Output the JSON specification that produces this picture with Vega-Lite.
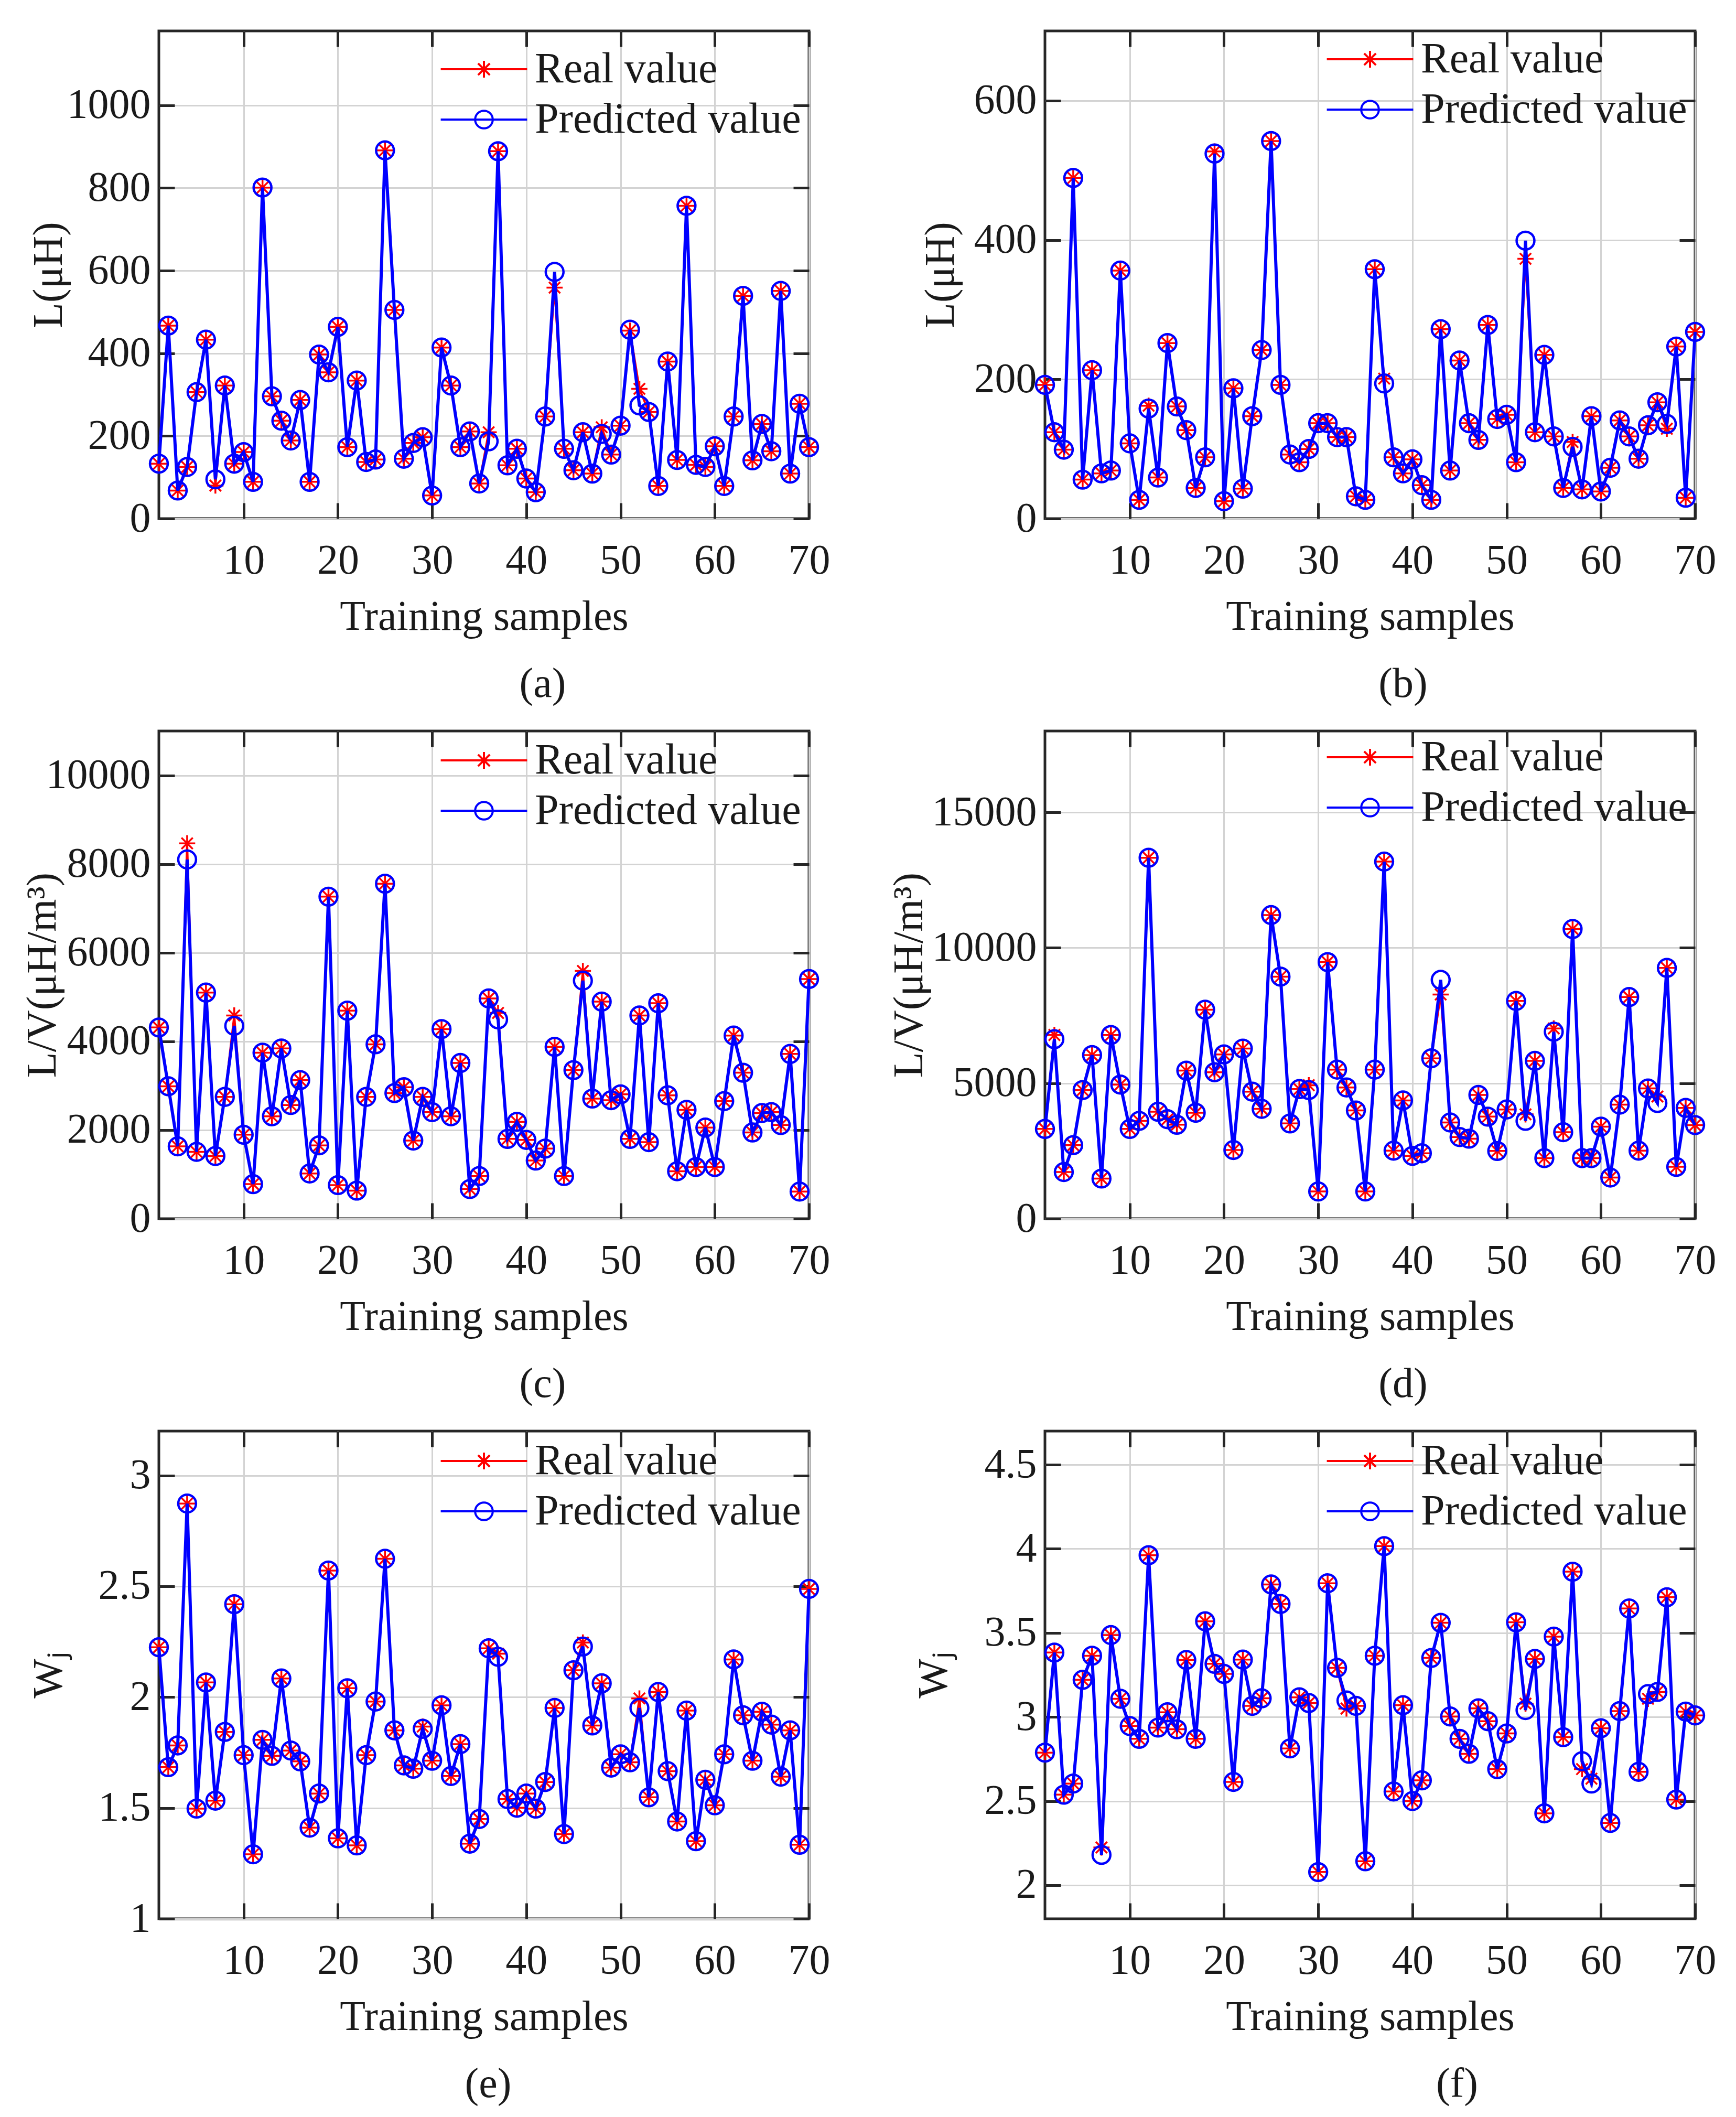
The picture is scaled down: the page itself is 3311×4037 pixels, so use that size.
{
"$schema":"https://vega.github.io/schema/vega-lite/v6.json",
"background":"white",
"padding":{"left":38,"top":54,"right":0,"bottom":0},
"autosize":{"type":"pad"},
"bounds":"flush",
"columns":2,
"spacing":{"row":405,"column":450},
"resolve":{"scale":{"color":"independent","shape":"independent"},"legend":{"color":"independent","shape":"independent"}},
"datasets":{
"a":[{"i":1,"Real value":133,"Predicted value":133},{"i":2,"Real value":467,"Predicted value":467},{"i":3,"Real value":68,"Predicted value":68},{"i":4,"Real value":125,"Predicted value":125},{"i":5,"Real value":306,"Predicted value":306},{"i":6,"Real value":433,"Predicted value":433},{"i":7,"Real value":80,"Predicted value":95},{"i":8,"Real value":322,"Predicted value":322},{"i":9,"Real value":133,"Predicted value":133},{"i":10,"Real value":161,"Predicted value":161},{"i":11,"Real value":89,"Predicted value":89},{"i":12,"Real value":801,"Predicted value":801},{"i":13,"Real value":296,"Predicted value":296},{"i":14,"Real value":237,"Predicted value":237},{"i":15,"Real value":189,"Predicted value":189},{"i":16,"Real value":287,"Predicted value":287},{"i":17,"Real value":89,"Predicted value":89},{"i":18,"Real value":397,"Predicted value":397},{"i":19,"Real value":354,"Predicted value":354},{"i":20,"Real value":464,"Predicted value":464},{"i":21,"Real value":173,"Predicted value":173},{"i":22,"Real value":334,"Predicted value":334},{"i":23,"Real value":137,"Predicted value":137},{"i":24,"Real value":143,"Predicted value":143},{"i":25,"Real value":891,"Predicted value":891},{"i":26,"Real value":505,"Predicted value":505},{"i":27,"Real value":145,"Predicted value":145},{"i":28,"Real value":183,"Predicted value":183},{"i":29,"Real value":197,"Predicted value":197},{"i":30,"Real value":56,"Predicted value":56},{"i":31,"Real value":414,"Predicted value":414},{"i":32,"Real value":322,"Predicted value":322},{"i":33,"Real value":173,"Predicted value":173},{"i":34,"Real value":211,"Predicted value":211},{"i":35,"Real value":85,"Predicted value":85},{"i":36,"Real value":209,"Predicted value":187},{"i":37,"Real value":889,"Predicted value":889},{"i":38,"Real value":129,"Predicted value":129},{"i":39,"Real value":169,"Predicted value":169},{"i":40,"Real value":97,"Predicted value":97},{"i":41,"Real value":64,"Predicted value":64},{"i":42,"Real value":247,"Predicted value":247},{"i":43,"Real value":559,"Predicted value":597},{"i":44,"Real value":169,"Predicted value":169},{"i":45,"Real value":117,"Predicted value":117},{"i":46,"Real value":209,"Predicted value":209},{"i":47,"Real value":109,"Predicted value":109},{"i":48,"Real value":221,"Predicted value":205},{"i":49,"Real value":155,"Predicted value":155},{"i":50,"Real value":225,"Predicted value":225},{"i":51,"Real value":455,"Predicted value":457},{"i":52,"Real value":314,"Predicted value":274},{"i":53,"Real value":258,"Predicted value":258},{"i":54,"Real value":79,"Predicted value":79},{"i":55,"Real value":380,"Predicted value":380},{"i":56,"Real value":142,"Predicted value":142},{"i":57,"Real value":757,"Predicted value":757},{"i":58,"Real value":130,"Predicted value":130},{"i":59,"Real value":125,"Predicted value":125},{"i":60,"Real value":175,"Predicted value":175},{"i":61,"Real value":79,"Predicted value":79},{"i":62,"Real value":247,"Predicted value":247},{"i":63,"Real value":539,"Predicted value":539},{"i":64,"Real value":141,"Predicted value":141},{"i":65,"Real value":229,"Predicted value":229},{"i":66,"Real value":163,"Predicted value":163},{"i":67,"Real value":551,"Predicted value":551},{"i":68,"Real value":109,"Predicted value":109},{"i":69,"Real value":278,"Predicted value":278},{"i":70,"Real value":173,"Predicted value":173}],
"b":[{"i":1,"Real value":192,"Predicted value":192},{"i":2,"Real value":124,"Predicted value":124},{"i":3,"Real value":99,"Predicted value":99},{"i":4,"Real value":489,"Predicted value":489},{"i":5,"Real value":56,"Predicted value":56},{"i":6,"Real value":213,"Predicted value":213},{"i":7,"Real value":65,"Predicted value":65},{"i":8,"Real value":69,"Predicted value":69},{"i":9,"Real value":356,"Predicted value":356},{"i":10,"Real value":108,"Predicted value":108},{"i":11,"Real value":27,"Predicted value":27},{"i":12,"Real value":162,"Predicted value":158},{"i":13,"Real value":59,"Predicted value":59},{"i":14,"Real value":252,"Predicted value":252},{"i":15,"Real value":161,"Predicted value":161},{"i":16,"Real value":127,"Predicted value":127},{"i":17,"Real value":44,"Predicted value":44},{"i":18,"Real value":88,"Predicted value":88},{"i":19,"Real value":527,"Predicted value":524},{"i":20,"Real value":25,"Predicted value":25},{"i":21,"Real value":187,"Predicted value":187},{"i":22,"Real value":43,"Predicted value":43},{"i":23,"Real value":147,"Predicted value":147},{"i":24,"Real value":242,"Predicted value":242},{"i":25,"Real value":542,"Predicted value":542},{"i":26,"Real value":192,"Predicted value":192},{"i":27,"Real value":92,"Predicted value":92},{"i":28,"Real value":81,"Predicted value":81},{"i":29,"Real value":100,"Predicted value":100},{"i":30,"Real value":137,"Predicted value":137},{"i":31,"Real value":137,"Predicted value":137},{"i":32,"Real value":117,"Predicted value":117},{"i":33,"Real value":117,"Predicted value":117},{"i":34,"Real value":32,"Predicted value":32},{"i":35,"Real value":27,"Predicted value":27},{"i":36,"Real value":358,"Predicted value":358},{"i":37,"Real value":201,"Predicted value":194},{"i":38,"Real value":88,"Predicted value":88},{"i":39,"Real value":65,"Predicted value":65},{"i":40,"Real value":85,"Predicted value":85},{"i":41,"Real value":48,"Predicted value":48},{"i":42,"Real value":27,"Predicted value":27},{"i":43,"Real value":272,"Predicted value":272},{"i":44,"Real value":69,"Predicted value":69},{"i":45,"Real value":227,"Predicted value":227},{"i":46,"Real value":137,"Predicted value":137},{"i":47,"Real value":113,"Predicted value":113},{"i":48,"Real value":278,"Predicted value":278},{"i":49,"Real value":143,"Predicted value":143},{"i":50,"Real value":149,"Predicted value":149},{"i":51,"Real value":81,"Predicted value":81},{"i":52,"Real value":373,"Predicted value":399},{"i":53,"Real value":124,"Predicted value":124},{"i":54,"Real value":235,"Predicted value":235},{"i":55,"Real value":118,"Predicted value":118},{"i":56,"Real value":44,"Predicted value":44},{"i":57,"Real value":110,"Predicted value":103},{"i":58,"Real value":42,"Predicted value":42},{"i":59,"Real value":147,"Predicted value":147},{"i":60,"Real value":39,"Predicted value":39},{"i":61,"Real value":73,"Predicted value":73},{"i":62,"Real value":141,"Predicted value":141},{"i":63,"Real value":118,"Predicted value":118},{"i":64,"Real value":86,"Predicted value":86},{"i":65,"Real value":134,"Predicted value":134},{"i":66,"Real value":167,"Predicted value":167},{"i":67,"Real value":129,"Predicted value":136},{"i":68,"Real value":247,"Predicted value":247},{"i":69,"Real value":30,"Predicted value":30},{"i":70,"Real value":268,"Predicted value":268}],
"c":[{"i":1,"Real value":4313,"Predicted value":4313},{"i":2,"Real value":2987,"Predicted value":2987},{"i":3,"Real value":1632,"Predicted value":1632},{"i":4,"Real value":8466,"Predicted value":8102},{"i":5,"Real value":1508,"Predicted value":1508},{"i":6,"Real value":5100,"Predicted value":5100},{"i":7,"Real value":1413,"Predicted value":1413},{"i":8,"Real value":2747,"Predicted value":2747},{"i":9,"Real value":4583,"Predicted value":4350},{"i":10,"Real value":1894,"Predicted value":1894},{"i":11,"Real value":780,"Predicted value":780},{"i":12,"Real value":3745,"Predicted value":3745},{"i":13,"Real value":2310,"Predicted value":2310},{"i":14,"Real value":3840,"Predicted value":3840},{"i":15,"Real value":2565,"Predicted value":2565},{"i":16,"Real value":3126,"Predicted value":3126},{"i":17,"Real value":1020,"Predicted value":1020},{"i":18,"Real value":1654,"Predicted value":1654},{"i":19,"Real value":7264,"Predicted value":7264},{"i":20,"Real value":758,"Predicted value":758},{"i":21,"Real value":4692,"Predicted value":4692},{"i":22,"Real value":634,"Predicted value":634},{"i":23,"Real value":2747,"Predicted value":2747},{"i":24,"Real value":3934,"Predicted value":3934},{"i":25,"Real value":7556,"Predicted value":7556},{"i":26,"Real value":2834,"Predicted value":2834},{"i":27,"Real value":2965,"Predicted value":2965},{"i":28,"Real value":1763,"Predicted value":1763},{"i":29,"Real value":2747,"Predicted value":2747},{"i":30,"Real value":2404,"Predicted value":2404},{"i":31,"Real value":4277,"Predicted value":4277},{"i":32,"Real value":2310,"Predicted value":2310},{"i":33,"Real value":3512,"Predicted value":3512},{"i":34,"Real value":670,"Predicted value":670},{"i":35,"Real value":962,"Predicted value":962},{"i":36,"Real value":4969,"Predicted value":4969},{"i":37,"Real value":4641,"Predicted value":4495},{"i":38,"Real value":1800,"Predicted value":1800},{"i":39,"Real value":2186,"Predicted value":2186},{"i":40,"Real value":1778,"Predicted value":1778},{"i":41,"Real value":1312,"Predicted value":1312},{"i":42,"Real value":1581,"Predicted value":1581},{"i":43,"Real value":3876,"Predicted value":3876},{"i":44,"Real value":962,"Predicted value":962},{"i":45,"Real value":3352,"Predicted value":3352},{"i":46,"Real value":5588,"Predicted value":5370},{"i":47,"Real value":2710,"Predicted value":2710},{"i":48,"Real value":4896,"Predicted value":4896},{"i":49,"Real value":2674,"Predicted value":2674},{"i":50,"Real value":2805,"Predicted value":2805},{"i":51,"Real value":1800,"Predicted value":1800},{"i":52,"Real value":4583,"Predicted value":4583},{"i":53,"Real value":1727,"Predicted value":1727},{"i":54,"Real value":4860,"Predicted value":4860},{"i":55,"Real value":2783,"Predicted value":2783},{"i":56,"Real value":1071,"Predicted value":1071},{"i":57,"Real value":2455,"Predicted value":2455},{"i":58,"Real value":1166,"Predicted value":1166},{"i":59,"Real value":2055,"Predicted value":2055},{"i":60,"Real value":1166,"Predicted value":1166},{"i":61,"Real value":2652,"Predicted value":2652},{"i":62,"Real value":4131,"Predicted value":4131},{"i":63,"Real value":3293,"Predicted value":3293},{"i":64,"Real value":1945,"Predicted value":1945},{"i":65,"Real value":2383,"Predicted value":2383},{"i":66,"Real value":2404,"Predicted value":2404},{"i":67,"Real value":2113,"Predicted value":2113},{"i":68,"Real value":3716,"Predicted value":3716},{"i":69,"Real value":612,"Predicted value":612},{"i":70,"Real value":5406,"Predicted value":5406}],
"d":[{"i":1,"Real value":3313,"Predicted value":3313},{"i":2,"Real value":6781,"Predicted value":6626},{"i":3,"Real value":1722,"Predicted value":1722},{"i":4,"Real value":2715,"Predicted value":2715},{"i":5,"Real value":4748,"Predicted value":4748},{"i":6,"Real value":6040,"Predicted value":6040},{"i":7,"Real value":1483,"Predicted value":1483},{"i":8,"Real value":6781,"Predicted value":6781},{"i":9,"Real value":4951,"Predicted value":4951},{"i":10,"Real value":3313,"Predicted value":3313},{"i":11,"Real value":3612,"Predicted value":3612},{"i":12,"Real value":13323,"Predicted value":13323},{"i":13,"Real value":3947,"Predicted value":3947},{"i":14,"Real value":3672,"Predicted value":3672},{"i":15,"Real value":3468,"Predicted value":3468},{"i":16,"Real value":5466,"Predicted value":5466},{"i":17,"Real value":3911,"Predicted value":3911},{"i":18,"Real value":7714,"Predicted value":7714},{"i":19,"Real value":5406,"Predicted value":5406},{"i":20,"Real value":6064,"Predicted value":6064},{"i":21,"Real value":2536,"Predicted value":2536},{"i":22,"Real value":6279,"Predicted value":6279},{"i":23,"Real value":4688,"Predicted value":4688},{"i":24,"Real value":4054,"Predicted value":4054},{"i":25,"Real value":11207,"Predicted value":11207},{"i":26,"Real value":8934,"Predicted value":8934},{"i":27,"Real value":3516,"Predicted value":3516},{"i":28,"Real value":4784,"Predicted value":4784},{"i":29,"Real value":4928,"Predicted value":4748},{"i":30,"Real value":1005,"Predicted value":1005},{"i":31,"Real value":9472,"Predicted value":9472},{"i":32,"Real value":5502,"Predicted value":5502},{"i":33,"Real value":4844,"Predicted value":4844},{"i":34,"Real value":3995,"Predicted value":3995},{"i":35,"Real value":1005,"Predicted value":1005},{"i":36,"Real value":5502,"Predicted value":5502},{"i":37,"Real value":13180,"Predicted value":13180},{"i":38,"Real value":2512,"Predicted value":2512},{"i":39,"Real value":4365,"Predicted value":4365},{"i":40,"Real value":2320,"Predicted value":2320},{"i":41,"Real value":2416,"Predicted value":2416},{"i":42,"Real value":5920,"Predicted value":5920},{"i":43,"Real value":8276,"Predicted value":8815},{"i":44,"Real value":3552,"Predicted value":3552},{"i":45,"Real value":3014,"Predicted value":3014},{"i":46,"Real value":2954,"Predicted value":2954},{"i":47,"Real value":4569,"Predicted value":4569},{"i":48,"Real value":3767,"Predicted value":3767},{"i":49,"Real value":2500,"Predicted value":2500},{"i":50,"Real value":4030,"Predicted value":4030},{"i":51,"Real value":8037,"Predicted value":8037},{"i":52,"Real value":3851,"Predicted value":3612},{"i":53,"Real value":5825,"Predicted value":5825},{"i":54,"Real value":2237,"Predicted value":2237},{"i":55,"Real value":7021,"Predicted value":6901},{"i":56,"Real value":3193,"Predicted value":3193},{"i":57,"Real value":10692,"Predicted value":10692},{"i":58,"Real value":2237,"Predicted value":2237},{"i":59,"Real value":2237,"Predicted value":2237},{"i":60,"Real value":3397,"Predicted value":3397},{"i":61,"Real value":1519,"Predicted value":1519},{"i":62,"Real value":4210,"Predicted value":4210},{"i":63,"Real value":8181,"Predicted value":8181},{"i":64,"Real value":2512,"Predicted value":2512},{"i":65,"Real value":4808,"Predicted value":4808},{"i":66,"Real value":4509,"Predicted value":4270},{"i":67,"Real value":9257,"Predicted value":9257},{"i":68,"Real value":1914,"Predicted value":1914},{"i":69,"Real value":4090,"Predicted value":4090},{"i":70,"Real value":3456,"Predicted value":3456}],
"e":[{"i":1,"Real value":2.225,"Predicted value":2.225},{"i":2,"Real value":1.684,"Predicted value":1.684},{"i":3,"Real value":1.782,"Predicted value":1.782},{"i":4,"Real value":2.873,"Predicted value":2.873},{"i":5,"Real value":1.497,"Predicted value":1.497},{"i":6,"Real value":2.066,"Predicted value":2.066},{"i":7,"Real value":1.533,"Predicted value":1.533},{"i":8,"Real value":1.843,"Predicted value":1.843},{"i":9,"Real value":2.419,"Predicted value":2.419},{"i":10,"Real value":1.738,"Predicted value":1.738},{"i":11,"Real value":1.291,"Predicted value":1.291},{"i":12,"Real value":1.807,"Predicted value":1.807},{"i":13,"Real value":1.735,"Predicted value":1.735},{"i":14,"Real value":2.084,"Predicted value":2.084},{"i":15,"Real value":1.759,"Predicted value":1.759},{"i":16,"Real value":1.71,"Predicted value":1.71},{"i":17,"Real value":1.411,"Predicted value":1.411},{"i":18,"Real value":1.565,"Predicted value":1.565},{"i":19,"Real value":2.571,"Predicted value":2.571},{"i":20,"Real value":1.363,"Predicted value":1.363},{"i":21,"Real value":2.04,"Predicted value":2.04},{"i":22,"Real value":1.331,"Predicted value":1.331},{"i":23,"Real value":1.738,"Predicted value":1.738},{"i":24,"Real value":1.98,"Predicted value":1.98},{"i":25,"Real value":2.624,"Predicted value":2.624},{"i":26,"Real value":1.85,"Predicted value":1.85},{"i":27,"Real value":1.692,"Predicted value":1.692},{"i":28,"Real value":1.677,"Predicted value":1.677},{"i":29,"Real value":1.867,"Predicted value":1.857},{"i":30,"Real value":1.713,"Predicted value":1.713},{"i":31,"Real value":1.963,"Predicted value":1.963},{"i":32,"Real value":1.644,"Predicted value":1.644},{"i":33,"Real value":1.788,"Predicted value":1.788},{"i":34,"Real value":1.339,"Predicted value":1.339},{"i":35,"Real value":1.45,"Predicted value":1.45},{"i":36,"Real value":2.22,"Predicted value":2.22},{"i":37,"Real value":2.196,"Predicted value":2.182},{"i":38,"Real value":1.54,"Predicted value":1.54},{"i":39,"Real value":1.501,"Predicted value":1.501},{"i":40,"Real value":1.565,"Predicted value":1.565},{"i":41,"Real value":1.497,"Predicted value":1.497},{"i":42,"Real value":1.617,"Predicted value":1.617},{"i":43,"Real value":1.951,"Predicted value":1.951},{"i":44,"Real value":1.382,"Predicted value":1.382},{"i":45,"Real value":2.121,"Predicted value":2.121},{"i":46,"Real value":2.246,"Predicted value":2.228},{"i":47,"Real value":1.872,"Predicted value":1.872},{"i":48,"Real value":2.062,"Predicted value":2.062},{"i":49,"Real value":1.682,"Predicted value":1.682},{"i":50,"Real value":1.742,"Predicted value":1.742},{"i":51,"Real value":1.706,"Predicted value":1.706},{"i":52,"Real value":1.994,"Predicted value":1.951},{"i":53,"Real value":1.548,"Predicted value":1.548},{"i":54,"Real value":2.023,"Predicted value":2.023},{"i":55,"Real value":1.666,"Predicted value":1.666},{"i":56,"Real value":1.439,"Predicted value":1.439},{"i":57,"Real value":1.939,"Predicted value":1.939},{"i":58,"Real value":1.35,"Predicted value":1.35},{"i":59,"Real value":1.627,"Predicted value":1.627},{"i":60,"Real value":1.512,"Predicted value":1.512},{"i":61,"Real value":1.742,"Predicted value":1.742},{"i":62,"Real value":2.17,"Predicted value":2.17},{"i":63,"Real value":1.918,"Predicted value":1.918},{"i":64,"Real value":1.713,"Predicted value":1.713},{"i":65,"Real value":1.934,"Predicted value":1.934},{"i":66,"Real value":1.876,"Predicted value":1.876},{"i":67,"Real value":1.641,"Predicted value":1.641},{"i":68,"Real value":1.85,"Predicted value":1.85},{"i":69,"Real value":1.334,"Predicted value":1.334},{"i":70,"Real value":2.488,"Predicted value":2.488}],
"f":[{"i":1,"Real value":2.788,"Predicted value":2.788},{"i":2,"Real value":3.383,"Predicted value":3.383},{"i":3,"Real value":2.538,"Predicted value":2.538},{"i":4,"Real value":2.604,"Predicted value":2.604},{"i":5,"Real value":3.221,"Predicted value":3.221},{"i":6,"Real value":3.364,"Predicted value":3.364},{"i":7,"Real value":2.224,"Predicted value":2.18},{"i":8,"Real value":3.487,"Predicted value":3.487},{"i":9,"Real value":3.108,"Predicted value":3.108},{"i":10,"Real value":2.946,"Predicted value":2.946},{"i":11,"Real value":2.87,"Predicted value":2.87},{"i":12,"Real value":3.962,"Predicted value":3.962},{"i":13,"Real value":2.937,"Predicted value":2.937},{"i":14,"Real value":3.028,"Predicted value":3.028},{"i":15,"Real value":2.927,"Predicted value":2.927},{"i":16,"Real value":3.339,"Predicted value":3.339},{"i":17,"Real value":2.87,"Predicted value":2.87},{"i":18,"Real value":3.569,"Predicted value":3.569},{"i":19,"Real value":3.316,"Predicted value":3.316},{"i":20,"Real value":3.256,"Predicted value":3.256},{"i":21,"Real value":2.614,"Predicted value":2.614},{"i":22,"Real value":3.341,"Predicted value":3.341},{"i":23,"Real value":3.066,"Predicted value":3.066},{"i":24,"Real value":3.111,"Predicted value":3.111},{"i":25,"Real value":3.788,"Predicted value":3.788},{"i":26,"Real value":3.672,"Predicted value":3.672},{"i":27,"Real value":2.813,"Predicted value":2.813},{"i":28,"Real value":3.117,"Predicted value":3.117},{"i":29,"Real value":3.083,"Predicted value":3.083},{"i":30,"Real value":2.078,"Predicted value":2.078},{"i":31,"Real value":3.795,"Predicted value":3.795},{"i":32,"Real value":3.292,"Predicted value":3.292},{"i":33,"Real value":3.05,"Predicted value":3.098},{"i":34,"Real value":3.066,"Predicted value":3.066},{"i":35,"Real value":2.142,"Predicted value":2.142},{"i":36,"Real value":3.364,"Predicted value":3.364},{"i":37,"Real value":4.016,"Predicted value":4.016},{"i":38,"Real value":2.557,"Predicted value":2.557},{"i":39,"Real value":3.07,"Predicted value":3.07},{"i":40,"Real value":2.5,"Predicted value":2.5},{"i":41,"Real value":2.623,"Predicted value":2.623},{"i":42,"Real value":3.351,"Predicted value":3.351},{"i":43,"Real value":3.56,"Predicted value":3.56},{"i":44,"Real value":3.003,"Predicted value":3.003},{"i":45,"Real value":2.87,"Predicted value":2.87},{"i":46,"Real value":2.781,"Predicted value":2.781},{"i":47,"Real value":3.051,"Predicted value":3.051},{"i":48,"Real value":2.975,"Predicted value":2.975},{"i":49,"Real value":2.69,"Predicted value":2.69},{"i":50,"Real value":2.902,"Predicted value":2.902},{"i":51,"Real value":3.563,"Predicted value":3.563},{"i":52,"Real value":3.079,"Predicted value":3.041},{"i":53,"Real value":3.345,"Predicted value":3.345},{"i":54,"Real value":2.427,"Predicted value":2.427},{"i":55,"Real value":3.478,"Predicted value":3.478},{"i":56,"Real value":2.88,"Predicted value":2.88},{"i":57,"Real value":3.864,"Predicted value":3.864},{"i":58,"Real value":2.69,"Predicted value":2.737},{"i":59,"Real value":2.633,"Predicted value":2.604},{"i":60,"Real value":2.933,"Predicted value":2.933},{"i":61,"Real value":2.37,"Predicted value":2.37},{"i":62,"Real value":3.035,"Predicted value":3.035},{"i":63,"Real value":3.645,"Predicted value":3.645},{"i":64,"Real value":2.674,"Predicted value":2.674},{"i":65,"Real value":3.108,"Predicted value":3.136},{"i":66,"Real value":3.149,"Predicted value":3.149},{"i":67,"Real value":3.712,"Predicted value":3.712},{"i":68,"Real value":2.509,"Predicted value":2.509},{"i":69,"Real value":3.032,"Predicted value":3.032},{"i":70,"Real value":3.009,"Predicted value":3.009}]
},
"concat":[
{"width":1240,"height":930,"data":{"name":"a"},"transform":[{"fold":["Real value","Predicted value"],"as":["s","v"]}],
"title":{"text":"(a)","dx":112},
"encoding":{"x":{"field":"i","type":"quantitative","scale":{"domain":[1,70],"nice":false,"zero":false},"axis":null},"y":{"field":"v","type":"quantitative","scale":{"domain":[0,1180],"nice":false,"zero":false},"axis":null}},
"layer":[
{"transform":[{"filter":"datum.s === 'Real value'"}],"mark":{"type":"line","color":"#ff0000","strokeWidth":4},
"encoding":{"x":{"field":"i","type":"quantitative","scale":{"domain":[1,70],"nice":false,"zero":false},"axis":{"orient":"bottom","values":[10,20,30,40,50,60,70],"title":"Training samples","titleX":620,"titleY":187,"titleBaseline":"middle"}},
"y":{"field":"v","type":"quantitative","scale":{"domain":[0,1180],"nice":false,"zero":false},"axis":{"orient":"left","values":[0,200,400,600,800,1000],"format":"d","title":"L(μH)","titleX":-210,"titleY":465,"titleBaseline":"middle","titleAngle":-90}}}},
{"transform":[{"filter":"datum.s === 'Real value'"}],"mark":{"type":"point","shape":"M-1,0H1M0,-1V1M-0.7,-0.7L0.7,0.7M-0.7,0.7L0.7,-0.7","size":950,"strokeWidth":3.5,"filled":false,"opacity":1,"color":"#ff0000"}},
{"transform":[{"filter":"datum.s === 'Predicted value'"}],"mark":{"type":"line","color":"#0000ff","strokeWidth":6}},
{"transform":[{"filter":"datum.s === 'Predicted value'"}],"mark":{"type":"point","shape":"circle","size":1150,"strokeWidth":4.5,"filled":false,"opacity":1,"color":"#0000ff"}},
{"mark":{"type":"point","opacity":0},"encoding":{"x":{"field":"i","type":"quantitative","scale":{"domain":[1,70],"nice":false,"zero":false},"axis":{"orient":"top","labels":false,"title":null,"grid":false,"values":[10,20,30,40,50,60,70]}},"y":{"field":"v","type":"quantitative","scale":{"domain":[0,1180],"nice":false,"zero":false},"axis":{"orient":"right","labels":false,"title":null,"grid":false,"values":[0,200,400,600,800,1000]}}}},
{"mark":{"type":"point","opacity":0,"filled":false},"encoding":{"color":{"field":"s","type":"nominal","scale":{"domain":["Real value","Predicted value"],"range":["#ff0000","#0000ff"]},"legend":{"orient":"none","legendX":578,"legendY":31,"symbolOpacity":1}},"shape":{"field":"s","type":"nominal","scale":{"domain":["Real value","Predicted value"],"range":["M-2.06,0H2.06M0,-0.4V0.4M-0.4,0H0.4M-0.28,-0.28L0.28,0.28M-0.28,0.28L0.28,-0.28","M-2.06,0H2.06M-0.42,0A0.42,0.42 0 1,1 0.42,0A0.42,0.42 0 1,1 -0.42,0"]},"legend":{"orient":"none","legendX":578,"legendY":31,"symbolOpacity":1}}}}
]},
{"width":1240,"height":930,"data":{"name":"b"},"transform":[{"fold":["Real value","Predicted value"],"as":["s","v"]}],
"title":{"text":"(b)","dx":63},
"encoding":{"x":{"field":"i","type":"quantitative","scale":{"domain":[1,70],"nice":false,"zero":false},"axis":null},"y":{"field":"v","type":"quantitative","scale":{"domain":[0,700],"nice":false,"zero":false},"axis":null}},
"layer":[
{"transform":[{"filter":"datum.s === 'Real value'"}],"mark":{"type":"line","color":"#ff0000","strokeWidth":4},
"encoding":{"x":{"field":"i","type":"quantitative","scale":{"domain":[1,70],"nice":false,"zero":false},"axis":{"orient":"bottom","values":[10,20,30,40,50,60,70],"title":"Training samples","titleX":620,"titleY":187,"titleBaseline":"middle"}},
"y":{"field":"v","type":"quantitative","scale":{"domain":[0,700],"nice":false,"zero":false},"axis":{"orient":"left","values":[0,200,400,600],"format":"d","title":"L(μH)","titleX":-199,"titleY":465,"titleBaseline":"middle","titleAngle":-90}}}},
{"transform":[{"filter":"datum.s === 'Real value'"}],"mark":{"type":"point","shape":"M-1,0H1M0,-1V1M-0.7,-0.7L0.7,0.7M-0.7,0.7L0.7,-0.7","size":950,"strokeWidth":3.5,"filled":false,"opacity":1,"color":"#ff0000"}},
{"transform":[{"filter":"datum.s === 'Predicted value'"}],"mark":{"type":"line","color":"#0000ff","strokeWidth":6}},
{"transform":[{"filter":"datum.s === 'Predicted value'"}],"mark":{"type":"point","shape":"circle","size":1150,"strokeWidth":4.5,"filled":false,"opacity":1,"color":"#0000ff"}},
{"mark":{"type":"point","opacity":0},"encoding":{"x":{"field":"i","type":"quantitative","scale":{"domain":[1,70],"nice":false,"zero":false},"axis":{"orient":"top","labels":false,"title":null,"grid":false,"values":[10,20,30,40,50,60,70]}},"y":{"field":"v","type":"quantitative","scale":{"domain":[0,700],"nice":false,"zero":false},"axis":{"orient":"right","labels":false,"title":null,"grid":false,"values":[0,200,400,600]}}}},
{"mark":{"type":"point","opacity":0,"filled":false},"encoding":{"color":{"field":"s","type":"nominal","scale":{"domain":["Real value","Predicted value"],"range":["#ff0000","#0000ff"]},"legend":{"orient":"none","legendX":578,"legendY":12,"symbolOpacity":1}},"shape":{"field":"s","type":"nominal","scale":{"domain":["Real value","Predicted value"],"range":["M-2.06,0H2.06M0,-0.4V0.4M-0.4,0H0.4M-0.28,-0.28L0.28,0.28M-0.28,0.28L0.28,-0.28","M-2.06,0H2.06M-0.42,0A0.42,0.42 0 1,1 0.42,0A0.42,0.42 0 1,1 -0.42,0"]},"legend":{"orient":"none","legendX":578,"legendY":12,"symbolOpacity":1}}}}
]},
{"width":1240,"height":930,"data":{"name":"c"},"transform":[{"fold":["Real value","Predicted value"],"as":["s","v"]}],
"title":{"text":"(c)","dx":112},
"encoding":{"x":{"field":"i","type":"quantitative","scale":{"domain":[1,70],"nice":false,"zero":false},"axis":null},"y":{"field":"v","type":"quantitative","scale":{"domain":[0,11000],"nice":false,"zero":false},"axis":null}},
"layer":[
{"transform":[{"filter":"datum.s === 'Real value'"}],"mark":{"type":"line","color":"#ff0000","strokeWidth":4},
"encoding":{"x":{"field":"i","type":"quantitative","scale":{"domain":[1,70],"nice":false,"zero":false},"axis":{"orient":"bottom","values":[10,20,30,40,50,60,70],"title":"Training samples","titleX":620,"titleY":187,"titleBaseline":"middle"}},
"y":{"field":"v","type":"quantitative","scale":{"domain":[0,11000],"nice":false,"zero":false},"axis":{"orient":"left","values":[0,2000,4000,6000,8000,10000],"format":"d","title":"L/V(μH/m³)","titleX":-222,"titleY":465,"titleBaseline":"middle","titleAngle":-90}}}},
{"transform":[{"filter":"datum.s === 'Real value'"}],"mark":{"type":"point","shape":"M-1,0H1M0,-1V1M-0.7,-0.7L0.7,0.7M-0.7,0.7L0.7,-0.7","size":950,"strokeWidth":3.5,"filled":false,"opacity":1,"color":"#ff0000"}},
{"transform":[{"filter":"datum.s === 'Predicted value'"}],"mark":{"type":"line","color":"#0000ff","strokeWidth":6}},
{"transform":[{"filter":"datum.s === 'Predicted value'"}],"mark":{"type":"point","shape":"circle","size":1150,"strokeWidth":4.5,"filled":false,"opacity":1,"color":"#0000ff"}},
{"mark":{"type":"point","opacity":0},"encoding":{"x":{"field":"i","type":"quantitative","scale":{"domain":[1,70],"nice":false,"zero":false},"axis":{"orient":"top","labels":false,"title":null,"grid":false,"values":[10,20,30,40,50,60,70]}},"y":{"field":"v","type":"quantitative","scale":{"domain":[0,11000],"nice":false,"zero":false},"axis":{"orient":"right","labels":false,"title":null,"grid":false,"values":[0,2000,4000,6000,8000,10000]}}}},
{"mark":{"type":"point","opacity":0,"filled":false},"encoding":{"color":{"field":"s","type":"nominal","scale":{"domain":["Real value","Predicted value"],"range":["#ff0000","#0000ff"]},"legend":{"orient":"none","legendX":578,"legendY":14,"symbolOpacity":1}},"shape":{"field":"s","type":"nominal","scale":{"domain":["Real value","Predicted value"],"range":["M-2.06,0H2.06M0,-0.4V0.4M-0.4,0H0.4M-0.28,-0.28L0.28,0.28M-0.28,0.28L0.28,-0.28","M-2.06,0H2.06M-0.42,0A0.42,0.42 0 1,1 0.42,0A0.42,0.42 0 1,1 -0.42,0"]},"legend":{"orient":"none","legendX":578,"legendY":14,"symbolOpacity":1}}}}
]},
{"width":1240,"height":930,"data":{"name":"d"},"transform":[{"fold":["Real value","Predicted value"],"as":["s","v"]}],
"title":{"text":"(d)","dx":63},
"encoding":{"x":{"field":"i","type":"quantitative","scale":{"domain":[1,70],"nice":false,"zero":false},"axis":null},"y":{"field":"v","type":"quantitative","scale":{"domain":[0,18000],"nice":false,"zero":false},"axis":null}},
"layer":[
{"transform":[{"filter":"datum.s === 'Real value'"}],"mark":{"type":"line","color":"#ff0000","strokeWidth":4},
"encoding":{"x":{"field":"i","type":"quantitative","scale":{"domain":[1,70],"nice":false,"zero":false},"axis":{"orient":"bottom","values":[10,20,30,40,50,60,70],"title":"Training samples","titleX":620,"titleY":187,"titleBaseline":"middle"}},
"y":{"field":"v","type":"quantitative","scale":{"domain":[0,18000],"nice":false,"zero":false},"axis":{"orient":"left","values":[0,5000,10000,15000],"format":"d","title":"L/V(μH/m³)","titleX":-259,"titleY":465,"titleBaseline":"middle","titleAngle":-90}}}},
{"transform":[{"filter":"datum.s === 'Real value'"}],"mark":{"type":"point","shape":"M-1,0H1M0,-1V1M-0.7,-0.7L0.7,0.7M-0.7,0.7L0.7,-0.7","size":950,"strokeWidth":3.5,"filled":false,"opacity":1,"color":"#ff0000"}},
{"transform":[{"filter":"datum.s === 'Predicted value'"}],"mark":{"type":"line","color":"#0000ff","strokeWidth":6}},
{"transform":[{"filter":"datum.s === 'Predicted value'"}],"mark":{"type":"point","shape":"circle","size":1150,"strokeWidth":4.5,"filled":false,"opacity":1,"color":"#0000ff"}},
{"mark":{"type":"point","opacity":0},"encoding":{"x":{"field":"i","type":"quantitative","scale":{"domain":[1,70],"nice":false,"zero":false},"axis":{"orient":"top","labels":false,"title":null,"grid":false,"values":[10,20,30,40,50,60,70]}},"y":{"field":"v","type":"quantitative","scale":{"domain":[0,18000],"nice":false,"zero":false},"axis":{"orient":"right","labels":false,"title":null,"grid":false,"values":[0,5000,10000,15000]}}}},
{"mark":{"type":"point","opacity":0,"filled":false},"encoding":{"color":{"field":"s","type":"nominal","scale":{"domain":["Real value","Predicted value"],"range":["#ff0000","#0000ff"]},"legend":{"orient":"none","legendX":578,"legendY":8,"symbolOpacity":1}},"shape":{"field":"s","type":"nominal","scale":{"domain":["Real value","Predicted value"],"range":["M-2.06,0H2.06M0,-0.4V0.4M-0.4,0H0.4M-0.28,-0.28L0.28,0.28M-0.28,0.28L0.28,-0.28","M-2.06,0H2.06M-0.42,0A0.42,0.42 0 1,1 0.42,0A0.42,0.42 0 1,1 -0.42,0"]},"legend":{"orient":"none","legendX":578,"legendY":8,"symbolOpacity":1}}}}
]},
{"width":1240,"height":930,"data":{"name":"e"},"transform":[{"fold":["Real value","Predicted value"],"as":["s","v"]}],
"title":{"text":"(e)","dx":8},
"encoding":{"x":{"field":"i","type":"quantitative","scale":{"domain":[1,70],"nice":false,"zero":false},"axis":null},"y":{"field":"v","type":"quantitative","scale":{"domain":[1,3.2],"nice":false,"zero":false},"axis":null}},
"layer":[
{"transform":[{"filter":"datum.s === 'Real value'"}],"mark":{"type":"line","color":"#ff0000","strokeWidth":4},
"encoding":{"x":{"field":"i","type":"quantitative","scale":{"domain":[1,70],"nice":false,"zero":false},"axis":{"orient":"bottom","values":[10,20,30,40,50,60,70],"title":"Training samples","titleX":620,"titleY":187,"titleBaseline":"middle"}},
"y":{"field":"v","type":"quantitative","scale":{"domain":[1,3.2],"nice":false,"zero":false},"axis":{"orient":"left","values":[1,1.5,2,2.5,3],"format":".1~f","title":"Wⱼ","titleX":-210,"titleY":465,"titleBaseline":"middle","titleAngle":-90}}}},
{"transform":[{"filter":"datum.s === 'Real value'"}],"mark":{"type":"point","shape":"M-1,0H1M0,-1V1M-0.7,-0.7L0.7,0.7M-0.7,0.7L0.7,-0.7","size":950,"strokeWidth":3.5,"filled":false,"opacity":1,"color":"#ff0000"}},
{"transform":[{"filter":"datum.s === 'Predicted value'"}],"mark":{"type":"line","color":"#0000ff","strokeWidth":6}},
{"transform":[{"filter":"datum.s === 'Predicted value'"}],"mark":{"type":"point","shape":"circle","size":1150,"strokeWidth":4.5,"filled":false,"opacity":1,"color":"#0000ff"}},
{"mark":{"type":"point","opacity":0},"encoding":{"x":{"field":"i","type":"quantitative","scale":{"domain":[1,70],"nice":false,"zero":false},"axis":{"orient":"top","labels":false,"title":null,"grid":false,"values":[10,20,30,40,50,60,70]}},"y":{"field":"v","type":"quantitative","scale":{"domain":[1,3.2],"nice":false,"zero":false},"axis":{"orient":"right","labels":false,"title":null,"grid":false,"values":[1,1.5,2,2.5,3]}}}},
{"mark":{"type":"point","opacity":0,"filled":false},"encoding":{"color":{"field":"s","type":"nominal","scale":{"domain":["Real value","Predicted value"],"range":["#ff0000","#0000ff"]},"legend":{"orient":"none","legendX":578,"legendY":15,"symbolOpacity":1}},"shape":{"field":"s","type":"nominal","scale":{"domain":["Real value","Predicted value"],"range":["M-2.06,0H2.06M0,-0.4V0.4M-0.4,0H0.4M-0.28,-0.28L0.28,0.28M-0.28,0.28L0.28,-0.28","M-2.06,0H2.06M-0.42,0A0.42,0.42 0 1,1 0.42,0A0.42,0.42 0 1,1 -0.42,0"]},"legend":{"orient":"none","legendX":578,"legendY":15,"symbolOpacity":1}}}}
]},
{"width":1240,"height":930,"data":{"name":"f"},"transform":[{"fold":["Real value","Predicted value"],"as":["s","v"]}],
"title":{"text":"(f)","dx":166},
"encoding":{"x":{"field":"i","type":"quantitative","scale":{"domain":[1,70],"nice":false,"zero":false},"axis":null},"y":{"field":"v","type":"quantitative","scale":{"domain":[1.8,4.7],"nice":false,"zero":false},"axis":null}},
"layer":[
{"transform":[{"filter":"datum.s === 'Real value'"}],"mark":{"type":"line","color":"#ff0000","strokeWidth":4},
"encoding":{"x":{"field":"i","type":"quantitative","scale":{"domain":[1,70],"nice":false,"zero":false},"axis":{"orient":"bottom","values":[10,20,30,40,50,60,70],"title":"Training samples","titleX":620,"titleY":187,"titleBaseline":"middle"}},
"y":{"field":"v","type":"quantitative","scale":{"domain":[1.8,4.7],"nice":false,"zero":false},"axis":{"orient":"left","values":[2,2.5,3,3.5,4,4.5],"format":".1~f","title":"Wⱼ","titleX":-212,"titleY":465,"titleBaseline":"middle","titleAngle":-90}}}},
{"transform":[{"filter":"datum.s === 'Real value'"}],"mark":{"type":"point","shape":"M-1,0H1M0,-1V1M-0.7,-0.7L0.7,0.7M-0.7,0.7L0.7,-0.7","size":950,"strokeWidth":3.5,"filled":false,"opacity":1,"color":"#ff0000"}},
{"transform":[{"filter":"datum.s === 'Predicted value'"}],"mark":{"type":"line","color":"#0000ff","strokeWidth":6}},
{"transform":[{"filter":"datum.s === 'Predicted value'"}],"mark":{"type":"point","shape":"circle","size":1150,"strokeWidth":4.5,"filled":false,"opacity":1,"color":"#0000ff"}},
{"mark":{"type":"point","opacity":0},"encoding":{"x":{"field":"i","type":"quantitative","scale":{"domain":[1,70],"nice":false,"zero":false},"axis":{"orient":"top","labels":false,"title":null,"grid":false,"values":[10,20,30,40,50,60,70]}},"y":{"field":"v","type":"quantitative","scale":{"domain":[1.8,4.7],"nice":false,"zero":false},"axis":{"orient":"right","labels":false,"title":null,"grid":false,"values":[2,2.5,3,3.5,4,4.5]}}}},
{"mark":{"type":"point","opacity":0,"filled":false},"encoding":{"color":{"field":"s","type":"nominal","scale":{"domain":["Real value","Predicted value"],"range":["#ff0000","#0000ff"]},"legend":{"orient":"none","legendX":578,"legendY":15,"symbolOpacity":1}},"shape":{"field":"s","type":"nominal","scale":{"domain":["Real value","Predicted value"],"range":["M-2.06,0H2.06M0,-0.4V0.4M-0.4,0H0.4M-0.28,-0.28L0.28,0.28M-0.28,0.28L0.28,-0.28","M-2.06,0H2.06M-0.42,0A0.42,0.42 0 1,1 0.42,0A0.42,0.42 0 1,1 -0.42,0"]},"legend":{"orient":"none","legendX":578,"legendY":15,"symbolOpacity":1}}}}
]}
],
"config":{
"font":"Liberation Serif",
"view":{"stroke":"#262626","strokeWidth":5},
"axis":{"labelFont":"Liberation Serif","labelFontSize":80,"labelColor":"#1a1a1a","labelLimit":0,"titleFont":"Liberation Serif","titleFontSize":80,"titleFontWeight":"normal","titleColor":"#1a1a1a","domain":false,"tickColor":"#262626","tickWidth":5,"tickSize":-30,"gridColor":"#d3d3d3","gridWidth":3,"labelFlush":false,"labelOverlap":false,"labelBound":false},
"axisX":{"labelPadding":71},
"axisY":{"labelPadding":46},
"legend":{"title":null,"labelFont":"Liberation Serif","labelFontSize":82,"labelColor":"#1a1a1a","labelLimit":0,"labelOffset":55,"symbolSize":6400,"symbolStrokeWidth":4,"rowPadding":13,"padding":0,"labelBaseline":"middle"},
"title":{"font":"Liberation Serif","fontSize":80,"fontWeight":"normal","color":"#1a1a1a","orient":"bottom","frame":"group","anchor":"middle","offset":50}
}
}
